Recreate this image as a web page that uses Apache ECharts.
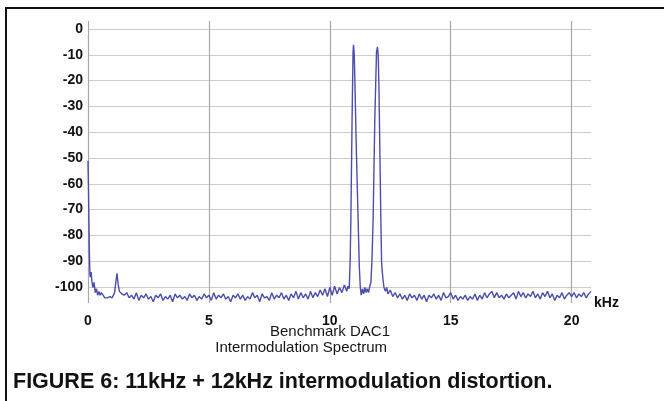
<!DOCTYPE html>
<html>
<head>
<meta charset="utf-8">
<script src="https://cdn.jsdelivr.net/npm/echarts@6/dist/echarts.min.js"></script>
<style>
  html, body { margin: 0; padding: 0; background: #fff; }
  #frame { position: absolute; left: 5px; top: 7px; width: 659px; height: 394px;
           border-left: 2px solid #111; border-top: 2px solid #111; box-sizing: border-box; }
  #chart { position: absolute; left: 0; top: 0; width: 664px; height: 401px; }
</style>
</head>
<body>
<div id="frame"></div>
<div id="chart"></div>
<script>
// ---- data ----
const xTicks = [0, 5, 10, 15, 20];              // kHz
const yTicks = [0, -10, -20, -30, -40, -50, -60, -70, -80, -90, -100]; // dB
const chartTitle = ['Benchmark DAC1', 'Intermodulation Spectrum'];
const caption = 'FIGURE 6: 11kHz + 12kHz intermodulation distortion.';
const xUnit = 'kHz';

// [frequency kHz, level dB]
const lowEnd = [
  [0.00, -51], [0.02, -62], [0.04, -76], [0.06, -88], [0.08, -95], [0.10, -96],
  [0.13, -94], [0.16, -97.5], [0.20, -100], [0.25, -98], [0.30, -102], [0.35, -100.5],
  [0.40, -103], [0.45, -101.5], [0.50, -103], [0.55, -102], [0.60, -102.5], [0.70, -104],
  [0.80, -104], [0.90, -103.5], [1.00, -104], [1.10, -102], [1.15, -98], [1.20, -94.5],
  [1.25, -99], [1.30, -101.5]
];
const floorLow = [
  [1.4, -102.5], [1.5, -103], [1.6, -102], [1.7, -104], [1.8, -103], [1.9, -104.5],
  [2.0, -102], [2.1, -105], [2.2, -103], [2.3, -104], [2.4, -102.5], [2.5, -104.5],
  [2.6, -103.5], [2.7, -105.5], [2.8, -103], [2.9, -104], [3.0, -102.5], [3.1, -105],
  [3.2, -103.5], [3.3, -104.5], [3.4, -103], [3.5, -105.5], [3.6, -102.5], [3.7, -104],
  [3.8, -103], [3.9, -104.5], [4.0, -103.5], [4.1, -105], [4.2, -102.5], [4.3, -104],
  [4.4, -103], [4.5, -105], [4.6, -103.5], [4.7, -104.5], [4.8, -102.5], [4.9, -104],
  [5.0, -103], [5.1, -105], [5.2, -102], [5.3, -104.5], [5.4, -103], [5.5, -104],
  [5.6, -102.5], [5.7, -104.5], [5.8, -103.5], [5.9, -105.5], [6.0, -103], [6.1, -104],
  [6.2, -102.5], [6.3, -104.5], [6.4, -103], [6.5, -105], [6.6, -103.5], [6.7, -104.5],
  [6.8, -102], [6.9, -104], [7.0, -103], [7.1, -105.5], [7.2, -102.5], [7.3, -104],
  [7.4, -103.5], [7.5, -105], [7.6, -102], [7.7, -104.5], [7.8, -103], [7.9, -104],
  [8.0, -102], [8.1, -104.5], [8.2, -103], [8.3, -105], [8.4, -102.5], [8.5, -104],
  [8.6, -101.5], [8.7, -104.5], [8.8, -102], [8.9, -104], [9.0, -102.5], [9.1, -104.5],
  [9.2, -101.5], [9.3, -104], [9.4, -102], [9.5, -103.5], [9.6, -101], [9.7, -103],
  [9.8, -100.5], [9.9, -103.5], [10.0, -100], [10.1, -103], [10.2, -99.5], [10.3, -102.5],
  [10.4, -100], [10.5, -102], [10.6, -99], [10.7, -101.5], [10.75, -99.5], [10.8, -100.5]
];
const tones = [
  [10.84, -90], [10.87, -74], [10.92, -35], [10.96, -9], [10.98, -6.2], [11.01, -10],
  [11.04, -22], [11.10, -48], [11.17, -74], [11.22, -92], [11.26, -100], [11.30, -103],
  [11.35, -100.5], [11.40, -102.5], [11.45, -100], [11.50, -102], [11.55, -100.5], [11.60, -102],
  [11.65, -99.5], [11.70, -98], [11.74, -90], [11.79, -74], [11.86, -35], [11.93, -9],
  [11.97, -7], [12.00, -10], [12.03, -22], [12.07, -48], [12.11, -74], [12.14, -90],
  [12.16, -93], [12.20, -97], [12.24, -100], [12.30, -101.5], [12.35, -100], [12.40, -102.5]
];
const floorHigh = [
  [12.5, -101], [12.6, -103.5], [12.7, -102], [12.8, -104], [12.9, -102.5], [13.0, -104.5],
  [13.1, -103], [13.2, -105], [13.3, -102.5], [13.4, -104], [13.5, -103], [13.6, -105],
  [13.7, -102.5], [13.8, -104.5], [13.9, -103], [14.0, -105.5], [14.1, -103], [14.2, -104],
  [14.3, -102.5], [14.4, -104.5], [14.5, -103], [14.6, -105], [14.7, -102], [14.8, -104],
  [14.9, -103.5], [15.0, -102], [15.1, -104.5], [15.2, -103], [15.3, -105], [15.4, -103.5],
  [15.5, -104.5], [15.6, -103], [15.7, -105], [15.8, -103.5], [15.9, -104.5], [16.0, -102.5],
  [16.1, -105], [16.2, -103], [16.3, -104.5], [16.4, -102], [16.5, -104], [16.6, -102.5],
  [16.7, -101.5], [16.8, -104], [16.9, -102], [17.0, -104], [17.1, -103], [17.2, -104.5],
  [17.3, -102.5], [17.4, -104], [17.5, -103], [17.6, -102], [17.7, -104.5], [17.8, -101.5],
  [17.9, -103.5], [18.0, -102], [18.1, -104], [18.2, -102.5], [18.3, -103.5], [18.4, -101.5],
  [18.5, -104], [18.6, -102.5], [18.7, -104.5], [18.8, -102], [18.9, -103.5], [19.0, -101.5],
  [19.1, -104], [19.2, -102.5], [19.3, -105], [19.4, -103], [19.5, -104], [19.6, -102],
  [19.7, -104.5], [19.8, -103], [19.9, -102], [20.0, -103.5], [20.1, -102], [20.2, -104],
  [20.3, -102.5], [20.4, -103.5], [20.5, -102], [20.6, -104], [20.7, -102.5], [20.8, -101.5]
];

const spectrum = lowEnd.concat(floorLow, tones, floorHigh);

const xMax = 20.8;
const yMinView = -106, yMaxView = 3;

const FONT = '"Liberation Sans", Arial, sans-serif';
const tickLabel = { fontFamily: FONT, fontWeight: 'bold', fontSize: 14, color: '#111' };

const chart = echarts.init(document.getElementById('chart'), null, { renderer: 'canvas' });
chart.setOption({
  animation: false,
  backgroundColor: 'transparent',
  title: [
    { text: chartTitle[0], right: 274, top: 324, padding: 0,
      textStyle: { fontFamily: FONT, fontWeight: 'normal', fontSize: 15, color: '#151515' } },
    { text: chartTitle[1], right: 277, top: 340, padding: 0,
      textStyle: { fontFamily: FONT, fontWeight: 'normal', fontSize: 15, color: '#151515' } },
    { text: caption, left: 13, top: 371, padding: 0,
      textStyle: { fontFamily: FONT, fontWeight: 'bold', fontSize: 21.5, color: '#111' } }
  ],
  grid: [
    { left: 88, right: 73, top: 21, bottom: 98, containLabel: false },
    { left: 88, right: 73, top: 29, bottom: 114, containLabel: false }
  ],
  xAxis: [
    { type: 'value', gridIndex: 0, min: 0, max: xMax, interval: 5, position: 'bottom',
      axisLine: { show: false, onZero: false }, axisTick: { show: false },
      axisLabel: Object.assign({ margin: 11, customValues: xTicks }, tickLabel),
      splitLine: { show: true, showMaxLine: false, lineStyle: { color: '#a8a8a8', width: 1.2 } },
      name: xUnit, nameLocation: 'end', nameGap: 3,
      nameTextStyle: Object.assign({ verticalAlign: 'middle', padding: [0, 0, 0, 0] }, tickLabel) },
    { type: 'value', gridIndex: 1, min: 0, max: xMax, show: false }
  ],
  yAxis: [
    { type: 'value', gridIndex: 0, min: yMinView, max: yMaxView, show: false },
    { type: 'value', gridIndex: 1, min: -100, max: 0, interval: 10,
      axisLine: { show: false }, axisTick: { show: false },
      axisLabel: Object.assign({ margin: 5 }, tickLabel),
      splitLine: { show: true, lineStyle: { color: '#cccccc', width: 1.2 } } }
  ],
  series: [
    { type: 'line', xAxisIndex: 0, yAxisIndex: 0, data: spectrum,
      showSymbol: false, symbol: 'none', smooth: false,
      lineStyle: { color: '#4c4cac', width: 1.4 }, z: 5 }
  ]
});
</script>
</body>
</html>
